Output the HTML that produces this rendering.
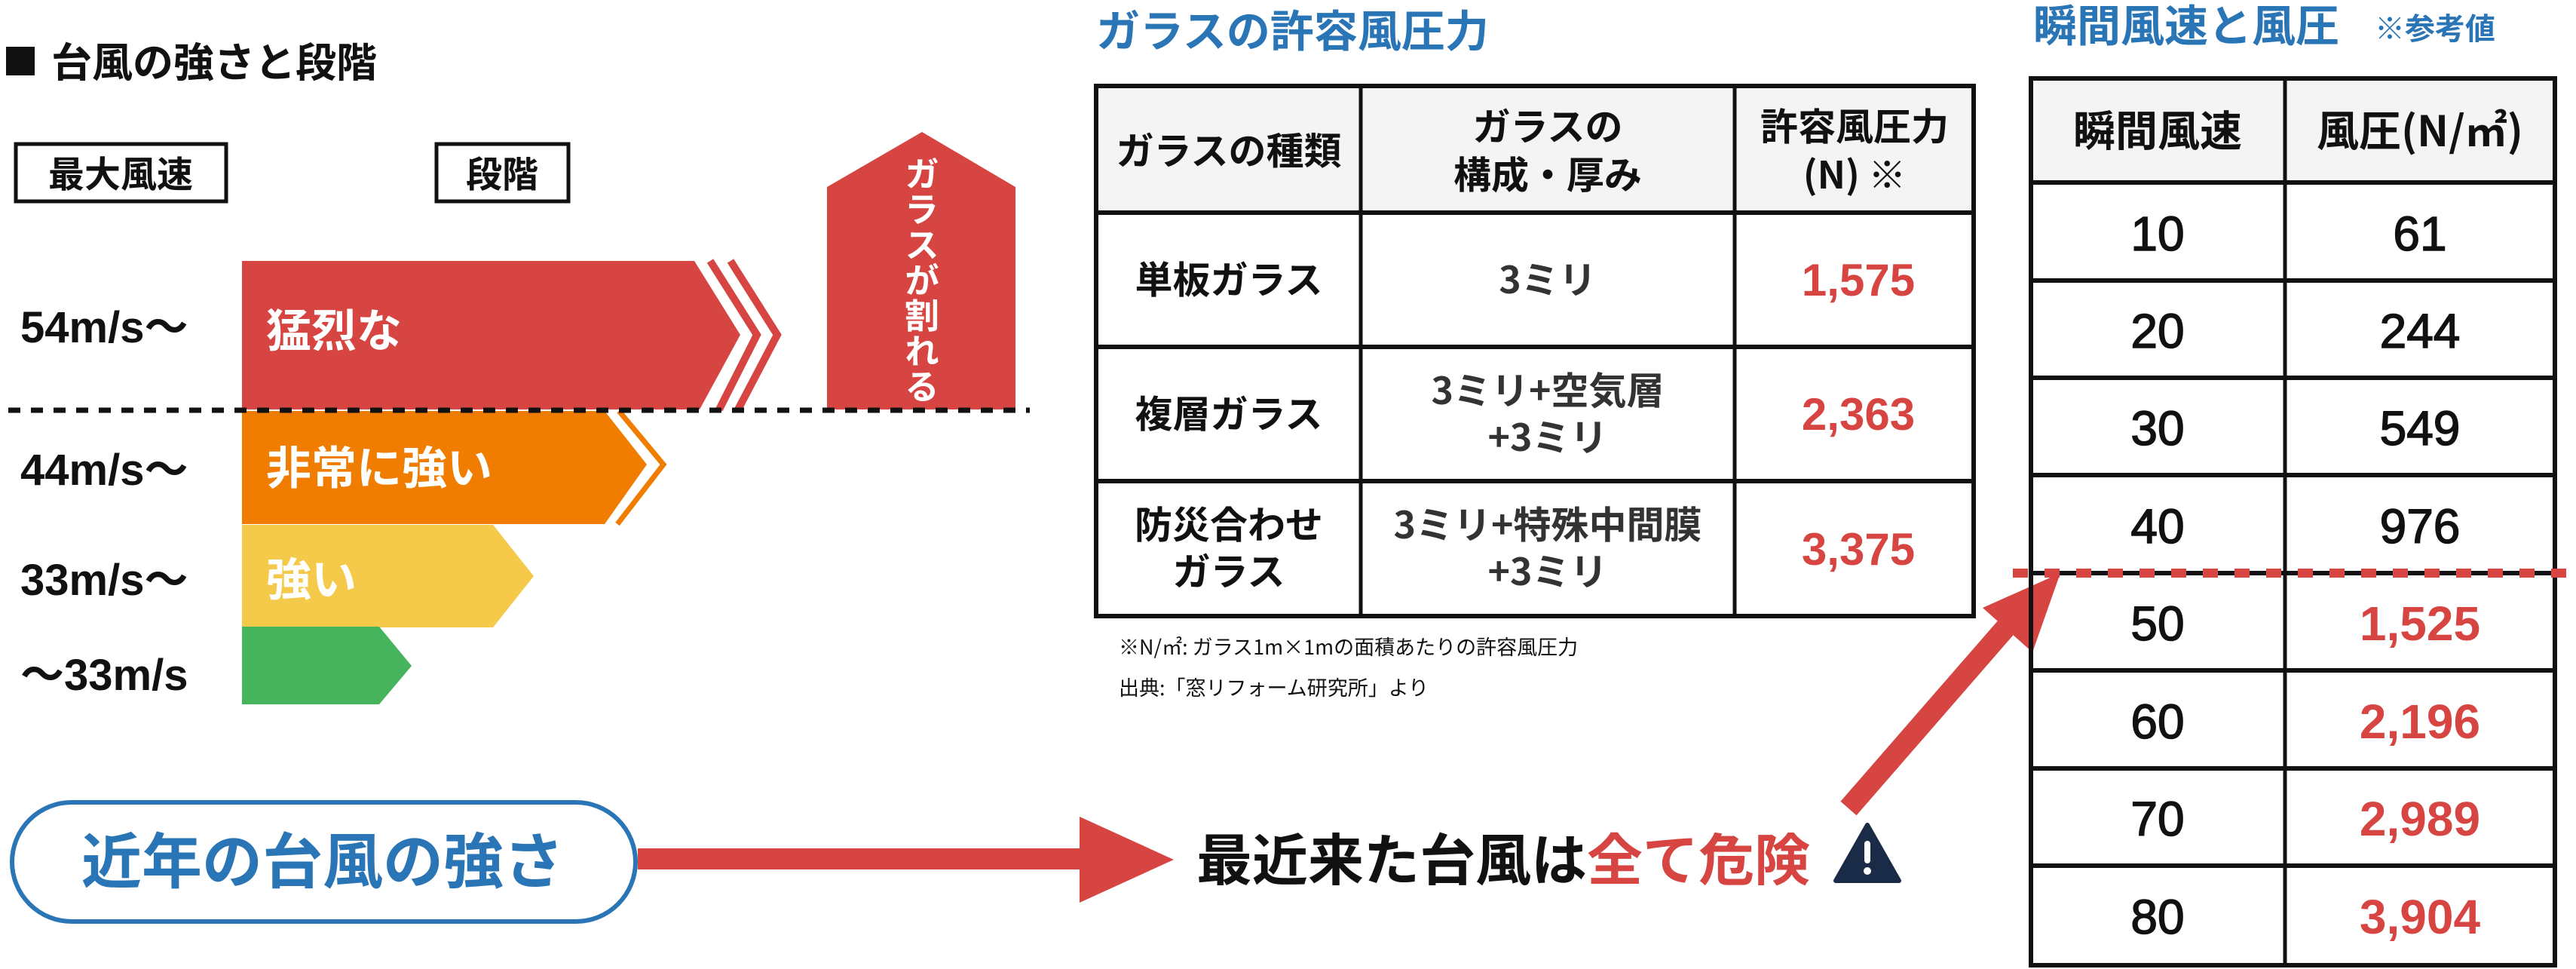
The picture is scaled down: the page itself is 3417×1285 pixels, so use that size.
<!DOCTYPE html>
<html><head><meta charset="utf-8">
<style>
html,body{margin:0;padding:0;background:#fff;}
svg{display:block;}
text{font-family:"Liberation Sans","Noto Sans CJK JP",sans-serif;}
.j{font-family:"Noto Sans CJK JP","Liberation Sans",sans-serif;}
</style></head>
<body>
<svg width="3417" height="1285" viewBox="0 0 3417 1285" xmlns="http://www.w3.org/2000/svg">
<rect width="3417" height="1285" fill="#fff"/>

<rect x="8" y="62" width="38" height="38" fill="#111"/>
<text class="j" x="68" y="102" font-size="54" font-weight="bold" fill="#111">台風の強さと段階</text>

<rect x="21" y="191" width="279" height="76" fill="#fff" stroke="#111" stroke-width="5"/>
<text class="j" x="160" y="248" font-size="48" font-weight="bold" fill="#111" text-anchor="middle">最大風速</text>
<rect x="579" y="191" width="175" height="76" fill="#fff" stroke="#111" stroke-width="5"/>
<text class="j" x="666" y="248" font-size="48" font-weight="bold" fill="#111" text-anchor="middle">段階</text>

<polygon points="1097,248 1223,175 1347,248 1347,543 1097,543" fill="#d64541"/>
<text class="j" x="1223" y="207" font-size="46" font-weight="bold" fill="#fff" style="writing-mode:vertical-rl;writing-mode:tb" text-anchor="start" letter-spacing="1">ガラスが割れる</text>

<polygon points="321,346 921,346 982,444 928,543 321,543" fill="#d64541"/>
<polyline points="942,346 1004,444 954,543" fill="none" stroke="#d64541" stroke-width="10"/>
<polyline points="969,346 1031,444 979,543" fill="none" stroke="#d64541" stroke-width="10"/>
<text class="j" x="353" y="460" font-size="60" font-weight="bold" fill="#fff">猛烈な</text>

<polygon points="321,545 802,545 858,616 802,695 321,695" fill="#f07d00"/>
<polyline points="821,545 880,616 819,695" fill="none" stroke="#f07d00" stroke-width="7"/>
<text class="j" x="353" y="642" font-size="60" font-weight="bold" fill="#fff">非常に強い</text>

<polygon points="321,696 654,696 708,764 654,832 321,832" fill="#f5c94a"/>
<text class="j" x="353" y="790" font-size="60" font-weight="bold" fill="#fff">強い</text>

<polygon points="321,831 503,831 546,883 503,934 321,934" fill="#46b35d"/>

<line x1="11" y1="544" x2="1366" y2="544" stroke="#111" stroke-width="7" stroke-dasharray="16,14"/>

<g font-size="58" fill="#111" font-weight="bold">
<text x="27" y="454">54m/s〜</text>
<text x="27" y="643">44m/s〜</text>
<text x="27" y="789">33m/s〜</text>
<text x="27" y="915">〜33m/s</text>
</g>

<rect x="16" y="1064" width="827" height="158" rx="79" fill="#fff" stroke="#2a75b6" stroke-width="6"/>
<text class="j" x="428" y="1171" font-size="80" font-weight="bold" fill="#2a75b6" text-anchor="middle">近年の台風の強さ</text>

<rect x="846" y="1125" width="590" height="28" fill="#d64541"/>
<polygon points="1432,1083 1557,1140 1432,1197" fill="#d64541"/>

<text class="j" x="1587" y="1167" font-size="74" font-weight="bold" fill="#111">最近来た台風は<tspan fill="#d64541">全て危険</tspan></text>
<path d="M2477,1094 L2519,1168 L2435,1168 Z" fill="#1a2b48" stroke="#1a2b48" stroke-width="6" stroke-linejoin="round"/>
<rect x="2473" y="1115" width="8" height="30" rx="4" fill="#fff"/>
<circle cx="2477" cy="1155" r="5" fill="#fff"/>

<line x1="2452" y1="1072" x2="2680" y2="810" stroke="#d64541" stroke-width="28"/>
<polygon points="2733,760 2630,806 2696,865" fill="#d64541"/>

<text class="j" x="1454" y="62" font-size="58" font-weight="bold" fill="#2a75b6">ガラスの許容風圧力</text>

<rect x="1454" y="114" width="1164" height="168" fill="#f4f4f4"/>
<g stroke="#111" stroke-width="5" fill="none">
<rect x="1454" y="114" width="1164" height="703" stroke-width="6"/>
<line x1="1805" y1="114" x2="1805" y2="817"/>
<line x1="2301" y1="114" x2="2301" y2="817"/>
<line x1="1454" y1="282" x2="2618" y2="282" stroke-width="6"/>
<line x1="1454" y1="460" x2="2618" y2="460" stroke-width="6"/>
<line x1="1454" y1="638" x2="2618" y2="638" stroke-width="6"/>
</g>
<g class="j" font-size="50" font-weight="bold" fill="#111" text-anchor="middle">
<text class="j" x="1630" y="218">ガラスの種類</text>
<text class="j" x="2053" y="186">ガラスの</text>
<text class="j" x="2053" y="250">構成・厚み</text>
<text class="j" x="2460" y="186">許容風圧力</text>
<text class="j" x="2460" y="250">(N) ※</text>
<text class="j" x="1630" y="389">単板ガラス</text>
<text class="j" x="1630" y="567">複層ガラス</text>
<text class="j" x="1630" y="714">防災合わせ</text>
<text class="j" x="1630" y="776">ガラス</text>
<g fill="#333">
<text class="j" x="2053" y="389">3ミリ</text>
<text class="j" x="2053" y="536">3ミリ+空気層</text>
<text class="j" x="2053" y="598">+3ミリ</text>
<text class="j" x="2053" y="714">3ミリ+特殊中間膜</text>
<text class="j" x="2053" y="776">+3ミリ</text>
</g>
</g>
<g font-size="60" font-weight="bold" fill="#d64541" text-anchor="middle">
<text x="2465" y="392">1,575</text>
<text x="2465" y="570">2,363</text>
<text x="2465" y="749">3,375</text>
</g>
<text class="j" x="1484" y="868" font-size="27" fill="#111">※N/㎡: ガラス1m×1mの面積あたりの許容風圧力</text>
<text class="j" x="1484" y="922" font-size="27" fill="#111">出典:「窓リフォーム研究所」より</text>

<text class="j" x="2697" y="55" font-size="58" font-weight="bold" fill="#2a75b6">瞬間風速と風圧</text>
<text class="j" x="3150" y="52" font-size="40" font-weight="bold" fill="#2a75b6">※参考値</text>

<rect x="2694" y="104" width="695" height="138" fill="#f4f4f4"/>
<g stroke="#111" stroke-width="5" fill="none">
<rect x="2694" y="104" width="695" height="1176" stroke-width="6"/>
<line x1="3031" y1="104" x2="3031" y2="1280"/>
<line x1="2694" y1="242" x2="3389" y2="242" stroke-width="6"/>
<line x1="2694" y1="372" x2="3389" y2="372" stroke-width="6"/>
<line x1="2694" y1="501" x2="3389" y2="501" stroke-width="6"/>
<line x1="2694" y1="630" x2="3389" y2="630" stroke-width="6"/>
<line x1="2694" y1="760" x2="3389" y2="760" stroke-width="6"/>
<line x1="2694" y1="889" x2="3389" y2="889" stroke-width="6"/>
<line x1="2694" y1="1019" x2="3389" y2="1019" stroke-width="6"/>
<line x1="2694" y1="1148" x2="3389" y2="1148" stroke-width="6"/>
</g>
<text class="j" x="2862" y="194" font-size="56" font-weight="bold" fill="#111" text-anchor="middle">瞬間風速</text>
<text class="j" x="3210" y="194" font-size="56" font-weight="bold" fill="#111" text-anchor="middle">風圧(N/㎡)</text>
<g font-size="64" fill="#111" text-anchor="middle" stroke="#111" stroke-width="1.5">
<text x="2862" y="332">10</text><text x="3210" y="332">61</text>
<text x="2862" y="461">20</text><text x="3210" y="461">244</text>
<text x="2862" y="590">30</text><text x="3210" y="590">549</text>
<text x="2862" y="720">40</text><text x="3210" y="720">976</text>
<text x="2862" y="849">50</text>
<text x="2862" y="979">60</text>
<text x="2862" y="1108">70</text>
<text x="2862" y="1238">80</text>
</g>
<g font-size="64" font-weight="bold" fill="#d64541" text-anchor="middle">
<text x="3210" y="849">1,525</text>
<text x="3210" y="979">2,196</text>
<text x="3210" y="1108">2,989</text>
<text x="3210" y="1238">3,904</text>
</g>
<line x1="2670" y1="760" x2="3417" y2="760" stroke="#d64541" stroke-width="12" stroke-dasharray="20,22"/>
</svg>
</body></html>
